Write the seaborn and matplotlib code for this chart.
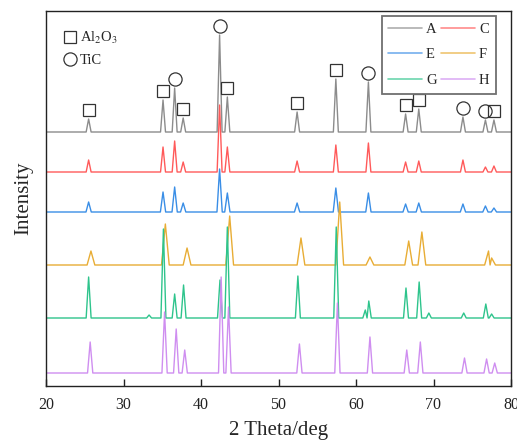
import numpy as np
import pandas as pd
import matplotlib
matplotlib.use('Agg')
import matplotlib.pyplot as plt
from matplotlib.lines import Line2D
import seaborn as sns

# peak positions (2theta, deg) and heights (arbitrary units)
a_pos = [25.5, 35.1, 36.6, 37.7, 42.4, 43.4, 52.4, 57.4, 61.6, 66.4, 68.1, 73.8, 76.7, 77.8]
a_height = [13, 32, 44, 14, 97, 35, 20, 53, 50, 18, 23, 15, 12, 12]
a_phase = ['s', 's', 'o', 's', 'o', 's', 's', 's', 'o', 's', 's', 'o', 'o', 's']

c_pos = [25.5, 35.1, 36.6, 37.7, 42.4, 43.4, 52.4, 57.4, 61.6, 66.4, 68.1, 73.8, 76.7, 77.8]
c_height = [12, 25, 31, 10, 67, 25, 11, 27, 29, 10, 11, 12, 5, 6]

e_pos = [25.5, 35.1, 36.6, 37.7, 42.4, 43.4, 52.4, 57.4, 61.6, 66.4, 68.1, 73.8, 76.7, 77.8]
e_height = [10, 20, 25, 9, 43, 19, 9, 24, 19, 8, 9, 8, 6, 4]

f_pos = [25.8, 35.4, 38.2, 43.7, 52.9, 57.9, 61.8, 66.8, 68.5, 77.1, 77.5]
f_height = [14, 41, 17, 49, 27, 63, 8, 24, 33, 14, 7]

g_pos = [25.5, 33.3, 35.15, 36.6, 37.75, 42.45, 43.4, 52.5, 57.45, 61.2, 61.65,
         66.45, 68.15, 69.4, 73.9, 76.75, 77.5]
g_height = [41, 3, 89, 24, 33, 38, 91, 42, 91, 8, 17, 30, 36, 5, 5, 14, 4]

h_pos = [25.7, 35.3, 36.8, 37.9, 42.6, 43.55, 52.7, 57.6, 61.8, 66.55, 68.3, 74.0, 76.85, 77.9]
h_height = [31, 61, 44, 23, 96, 66, 29, 70, 36, 23, 31, 15, 14, 10]

samples = ['A', 'C', 'E', 'F', 'G', 'H']
peaks = {
    'A': (a_pos, a_height),
    'C': (c_pos, c_height),
    'E': (e_pos, e_height),
    'F': (f_pos, f_height),
    'G': (g_pos, g_height),
    'H': (h_pos, h_height),
}

# vertical stacking and style
offsets = {'A': 254, 'C': 214, 'E': 174, 'F': 121, 'G': 68, 'H': 13}
half_width = {'A': 0.32, 'C': 0.32, 'E': 0.34, 'F': 0.5, 'G': 0.32, 'H': 0.34}
colors = {'A': '#8c8c8c', 'C': '#ff5a5a', 'E': '#3a8ee6', 'F': '#e8ad35',
          'G': '#2ec48c', 'H': '#cf8ef0'}


def profile(pos, height, w):
    # polyline: flat baseline with a triangular peak at each read position
    xs, ys = [20.0], [0.0]
    for i, (p, h) in enumerate(zip(pos, height)):
        left = p - w
        right = p + w
        if i > 0:
            left = max(left, (pos[i - 1] + p) / 2)
        if i < len(pos) - 1:
            right = min(right, (pos[i + 1] + p) / 2)
        xs += [left, p, right]
        ys += [0.0, h, 0.0]
    xs.append(80.0)
    ys.append(0.0)
    return xs, ys


rows = []
for s in samples:
    xs, ys = profile(*peaks[s], half_width[s])
    for i, (x, y) in enumerate(zip(xs, ys)):
        rows.append({'sample': s, 'idx': i, 'two_theta': x, 'intensity': y + offsets[s]})
df = pd.DataFrame(rows)

sns.set_style('ticks')
plt.rcParams['font.family'] = ['Liberation Serif', 'DejaVu Serif']
plt.rcParams['mathtext.fontset'] = 'stix'

fig = plt.figure(figsize=(5.17, 4.41), dpi=100)
ax = fig.add_axes([46 / 517, 1 - 386 / 441, 465 / 517, 375 / 441])

sns.lineplot(data=df, x='two_theta', y='intensity', hue='sample', hue_order=samples,
             palette=colors, sort=False, estimator=None, legend=False,
             linewidth=1.0, ax=ax)

# phase markers above the A pattern
for p, h, m in zip(a_pos, a_height, a_phase):
    ax.plot(p, offsets['A'] + h + 9, marker=m, ms=8.8 if m == 's' else 9.5,
            mfc='none', mec='#333333', mew=0.9, ls='')

ax.set_xlim(20, 80)
ax.set_ylim(0, 375)
ax.set_xticks(range(20, 81, 10))
ax.set_yticks([])
ax.tick_params(axis='x', direction='in', length=5, width=1, labelsize=11.5, pad=8,
               colors='#222222')
ax.set_xlabel('2 Theta/deg', fontsize=15, labelpad=6)
ax.set_ylabel('Intensity', fontsize=15, labelpad=9)
for sp in ax.spines.values():
    sp.set_visible(True)
    sp.set_color('#222222')
    sp.set_linewidth(1.0)

# phase key
phase_handles = [
    Line2D([], [], marker='s', ls='', mfc='none', mec='#333333', mew=0.9, ms=8.8),
    Line2D([], [], marker='o', ls='', mfc='none', mec='#333333', mew=0.9, ms=9.5),
]
leg1 = ax.legend(phase_handles, ['Al$_2$O$_3$', 'TiC'], loc='upper left',
                 bbox_to_anchor=(0.024, 0.965), borderaxespad=0, frameon=False,
                 fontsize=10.5, handlelength=1.0, handletextpad=0.15, labelspacing=0.55)
ax.add_artist(leg1)

# sample key, two columns filled column-wise
order = ['A', 'E', 'G', 'C', 'F', 'H']
line_handles = [Line2D([], [], color=colors[s], lw=1.2, alpha=0.7) for s in order]
leg2 = ax.legend(line_handles, order, loc='upper right', ncol=2,
                 bbox_to_anchor=(0.9677, 0.9867), borderaxespad=0, fontsize=10.5,
                 handlelength=2.3, handletextpad=0.3, columnspacing=0.3,
                 labelspacing=0.85, borderpad=0.45, fancybox=False, framealpha=1)
leg2.get_frame().set_edgecolor('#707070')
leg2.get_frame().set_linewidth(1.3)

fig.savefig('out.png', dpi=100)
